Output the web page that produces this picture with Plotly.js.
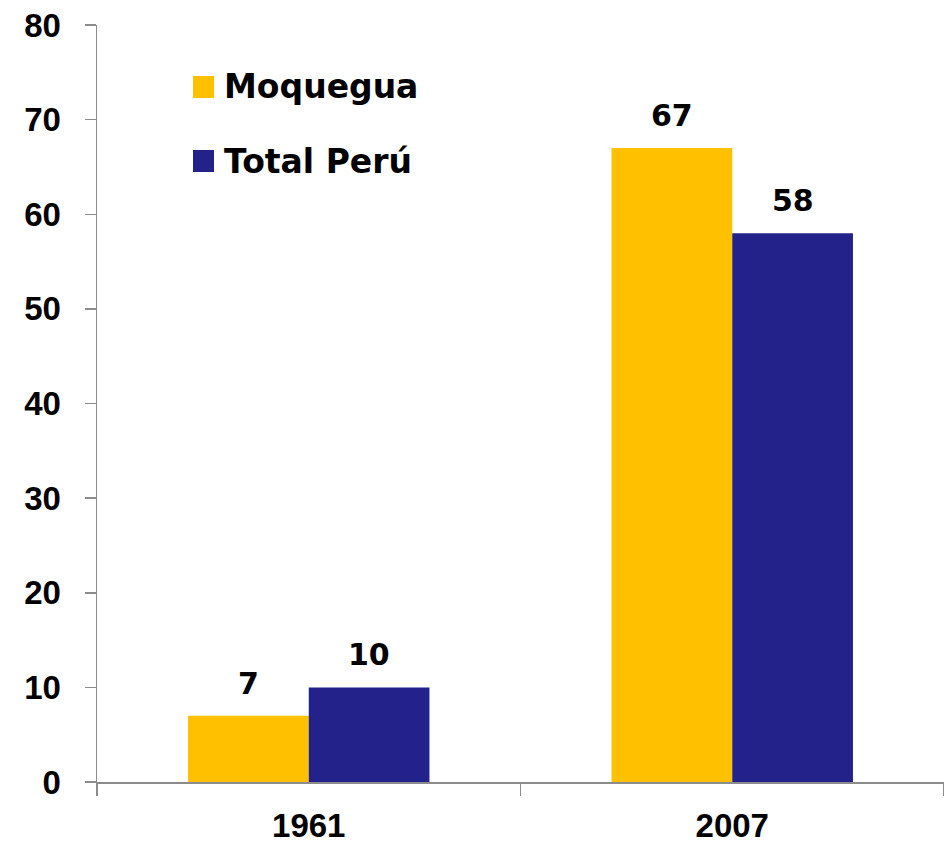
<!DOCTYPE html>
<html>
<head>
<meta charset="utf-8">
<script src="https://cdn.plot.ly/plotly-3.0.1.min.js"></script>
<style>
  html, body { margin: 0; padding: 0; background: #fff; }
  #chart { width: 944px; height: 846px; }
</style>
</head>
<body>
<div id="chart"></div>
<script>
// data
var years = ['1961', '2007'];
var seriesNames = ['Moquegua', 'Total Perú'];
var moquegua = [7, 67];
var totalPeru = [10, 58];
var yTicks = [0, 10, 20, 30, 40, 50, 60, 70, 80];

var colors = ['#FFC000', '#22228A'];

// plot area in pixels (used for the hand made legend)
var W = 944, H = 846;
var mL = 97, mR = 0, mT = 25, mB = 64;
function px(x) { return (x - mL) / (W - mL - mR); }
function py(y) { return 1 - (y - mT) / (H - mT - mB); }

var labelFont = {family: 'DejaVu Sans, sans-serif', size: 30, color: '#000', weight: 'bold'};
var tickFont = {family: 'Liberation Sans, Arial, sans-serif', size: 33, color: '#000', weight: 'bold'};
var legendFont = {family: 'DejaVu Sans, sans-serif', size: 33, color: '#000', weight: 'bold'};

var allSeries = [moquegua, totalPeru];

var data = allSeries.map(function (vals, i) {
  return {
    type: 'bar',
    x: years,
    y: vals,
    name: seriesNames[i],
    marker: {color: colors[i]},
    showlegend: false,
    hoverinfo: 'x+y+name'
  };
});

// value labels above each bar (category axis -> use the category index)
var annotations = [];
allSeries.forEach(function (vals, i) {
  vals.forEach(function (v, j) {
    annotations.push({
      x: j, y: v, xref: 'x', yref: 'y',
      text: String(v), showarrow: false,
      xanchor: 'center', yanchor: 'bottom',
      xshift: i === 0 ? -60.5 : 60.5, yshift: 13,
      font: labelFont
    });
  });
});

// legend drawn by hand, the squares are bigger than plotly's
var shapes = [];
var legendRows = [87, 161];
seriesNames.forEach(function (name, i) {
  var cy = legendRows[i];
  shapes.push({
    type: 'rect', xref: 'paper', yref: 'paper',
    x0: px(193), x1: px(214), y0: py(cy - 11), y1: py(cy + 11),
    fillcolor: colors[i], line: {width: 0}
  });
  annotations.push({
    xref: 'paper', yref: 'paper', x: px(222), y: py(cy),
    xanchor: 'left', yanchor: 'middle', showarrow: false,
    text: name, font: legendFont
  });
});

var layout = {
  width: W,
  height: H,
  margin: {l: mL, r: mR, t: mT, b: mB, pad: 0},
  paper_bgcolor: '#fff',
  plot_bgcolor: '#fff',
  barmode: 'group',
  bargap: 0.43,
  bargroupgap: 0,
  showlegend: false,
  xaxis: {
    type: 'category',
    range: [-0.5, 1.5],
    tickson: 'boundaries',
    ticks: 'outside', ticklen: 12, tickwidth: 1.5, tickcolor: '#8c8c8c',
    showline: true, linecolor: '#8c8c8c', linewidth: 1.5,
    showgrid: false, zeroline: false,
    tickfont: tickFont,
    ticklabelstandoff: 14
  },
  yaxis: {
    range: [0, 80],
    tickvals: yTicks,
    ticktext: yTicks.map(String),
    ticks: 'outside', ticklen: 11, tickwidth: 1.5, tickcolor: '#8c8c8c',
    showline: true, linecolor: '#8c8c8c', linewidth: 1.5,
    showgrid: false, zeroline: false,
    tickfont: tickFont,
    ticklabelstandoff: 17
  },
  shapes: shapes,
  annotations: annotations
};

Plotly.newPlot('chart', data, layout, {displayModeBar: false, staticPlot: true});
</script>
</body>
</html>
